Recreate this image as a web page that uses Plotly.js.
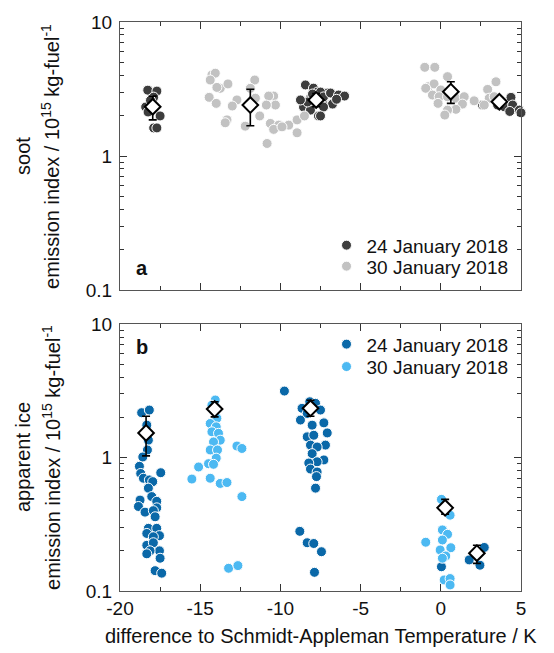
<!DOCTYPE html>
<html>
<head>
<meta charset="utf-8">
<script src="https://cdn.plot.ly/plotly-3.0.1.min.js"></script>
<style>html,body{margin:0;padding:0;background:#fff;}#chart{width:554px;height:653px;}</style>
</head>
<body>
<div id="chart"></div>
<script>
// ---- Panel a: soot ----
const sootJan24X = [-18.27,-17.7,-17.9,-18.3,-18.4,-18.25,-17.5,-17.9,-17.7,-18.1,
  -8.44,-7.94,-7.69,-8.1,-7.69,-7.375,-8.56,-8.125,-7.625,-8.31,-7.06,-7.5,-7.31,-6.875,-6.375,-6.75,-7.31,-7.5,-8.75,-8.0,-6.0,-6.5,
  2.6,3.54,3.96,4.375,4.48,4.9,5.1,5.0,4.3,3.8];
const sootJan24Y = [3.1,3.05,2.75,2.32,2.32,2.13,1.99,1.62,1.62,2.6,
  3.39,3.21,3.0,2.76,2.62,2.48,2.32,2.2,1.99,2.53,2.95,3.0,2.76,2.95,2.85,2.44,2.32,1.99,2.62,2.9,2.8,2.65,
  2.40,2.40,2.33,2.74,2.40,2.20,2.85,2.10,2.15,2.55];
const sootJan30X = [-14.27,-14.06,-14.375,-13.75,-13.27,-13.96,-14.44,-14.0,-12.71,-13.0,-13.33,-13.44,-12.19,-11.6,-11.875,-11.56,-11.29,-10.83,-10.42,-10.73,-10.31,-10.875,-10.625,-10.1,-10.42,-9.48,-8.96,-8.96,-8.5,-9.9,
  -1.0,-0.375,0.42,-0.77,-0.42,-0.94,0.0,-0.52,-0.1,0.42,0.94,1.46,-0.17,1.35,0.94,0.42,0.25,2.08,2.92,3.44,3.02,3.33,2.71];
const sootJan30Y = [4.02,4.15,3.69,3.2,3.45,3.25,2.74,2.47,2.62,2.36,1.86,1.77,1.67,3.69,3.2,2.7,1.99,1.24,2.8,2.8,2.4,2.4,1.75,1.7,1.58,1.7,1.86,1.49,1.99,1.65,
  4.59,4.59,3.91,3.29,3.45,3.2,3.11,2.85,2.77,2.77,2.7,2.77,2.47,2.44,2.23,2.2,2.02,2.58,3.14,3.58,2.7,2.77,2.4];
const sootMeanX = [-17.96,-11.875,-7.77,0.625,3.65];
const sootMeanY = [2.33,2.40,2.62,3.02,2.54];
const sootErrPlus = [0.47,0.75,0.31,0.56,0.0];
const sootErrMinus = [0.47,0.72,0.29,0.55,0.0];

// ---- Panel b: apparent ice ----
const iceJan24X = [-18.65,-18.17,-18.33,-18.23,-18.29,-18.58,-18.79,-18.71,-18.54,-18.17,-17.96,-17.46,-18.23,-18.02,-18.75,-18.85,-18.44,-17.71,-17.71,-17.92,-17.81,-18.23,-17.71,-18.33,-17.54,-17.92,-18.33,-17.92,-17.54,-18.125,-18.33,-17.5,-17.81,-17.4,
  -9.75,-8.17,-7.81,-8.65,-7.5,-8.33,-7.29,-8.75,-8.02,-7.08,-8.33,-7.92,-7.19,-8.125,-7.71,-8.02,-7.29,-7.71,-8.23,-8.125,-7.71,-7.75,-7.81,-8.79,-8.33,-7.92,-7.44,-7.875,
  0.04,1.77,2.44,2.71,2.75];
const iceJan24Y = [2.17,2.27,1.75,1.35,1.14,1.01,0.86,0.76,0.70,0.68,0.66,0.77,0.59,0.51,0.48,0.43,0.39,0.47,0.42,0.40,0.36,0.295,0.295,0.27,0.26,0.255,0.22,0.23,0.20,0.20,0.19,0.176,0.142,0.136,
  3.15,2.62,2.55,2.34,2.27,2.14,1.82,1.91,1.75,1.53,1.43,1.47,1.24,1.24,1.20,1.07,0.96,0.93,0.91,0.82,0.78,0.72,0.59,0.28,0.23,0.227,0.197,0.138,
  0.152,0.171,0.156,0.212,0.095];
const iceJan30X = [-14.06,-14.27,-14.17,-13.96,-14.375,-14.0,-14.27,-13.86,-13.75,-14.17,-14.375,-13.92,-14.0,-14.48,-14.17,-15.1,-15.52,-14.375,-13.75,-13.33,-12.71,-12.4,-12.4,-13.23,-12.65,
  0.04,0.58,0.1,0.42,-0.94,0.1,-0.04,0.625,0.31,0.1,0.21,0.58,0.58,0.58];
const iceJan30Y = [2.70,2.47,2.27,1.97,1.80,1.70,1.56,1.52,1.35,1.31,1.14,1.14,0.99,0.90,0.89,0.85,0.69,0.70,0.64,0.65,1.22,1.17,0.51,0.148,0.155,
  0.486,0.37,0.287,0.266,0.232,0.241,0.203,0.211,0.183,0.176,0.121,0.124,0.111,0.099];
const iceMeanX = [-18.375,-14.1,-8.125,0.27,2.25];
const iceMeanY = [1.53,2.31,2.34,0.42,0.192];
const iceErrPlus = [0.51,0.31,0.35,0.066,0.028];
const iceErrMinus = [0.50,0.29,0.30,0.043,0.031];

const seriesNames = ["24 January 2018", "30 January 2018"];
const xTickVals = [-20,-15,-10,-5,0,5];
const xTickText = ["-20","-15","-10","-5","0","5"];
const yTickVals = [0.1,1,10];
const yTickText = ["0.1","1","10"];

const FONT = "Liberation Sans, Arial, sans-serif";
const C = {dg:"#3d3d3d", lg:"#c2c2c2", db:"#0a68a8", lb:"#4cb9f2"};

function pts(x, y, color, name, xa, ya, leg) {
  return {x:x, y:y, type:"scatter", mode:"markers", name:name, xaxis:xa, yaxis:ya, legend:leg,
    cliponaxis:false,
    marker:{size:10, color:color, line:{color:"#ffffff", width:1}}};
}
function means(x, y, ep, em, xa, ya) {
  return {x:x, y:y, type:"scatter", mode:"markers", xaxis:xa, yaxis:ya, showlegend:false, cliponaxis:false,
    marker:{symbol:"diamond", size:12, color:"#ffffff", line:{color:"#000000", width:2}},
    error_y:{type:"data", symmetric:false, array:ep, arrayminus:em, color:"#000000", thickness:1.6, width:4}};
}

const data = [
  pts(sootJan24X, sootJan24Y, C.dg, seriesNames[0], "x", "y", "legend"),
  pts(sootJan30X, sootJan30Y, C.lg, seriesNames[1], "x", "y", "legend2"),
  pts(iceJan24X, iceJan24Y, C.db, seriesNames[0], "x2", "y2", "legend3"),
  pts(iceJan30X, iceJan30Y, C.lb, seriesNames[1], "x2", "y2", "legend4"),
  means(sootMeanX, sootMeanY, sootErrPlus, sootErrMinus, "x", "y"),
  means(iceMeanX, iceMeanY, iceErrPlus, iceErrMinus, "x2", "y2")
];

const yCommon = {type:"log", range:[-1,1], tickmode:"array", tickvals:yTickVals, ticktext:yTickText,
  ticks:"inside", ticklen:7, tickwidth:1, tickcolor:"#333",
  showline:true, linecolor:"#555", linewidth:1, mirror:"allticks", showgrid:false, zeroline:false,
  ticklabelstandoff:3,
  tickfont:{family:FONT, size:19, color:"#111"},
  minor:{dtick:"D1", ticks:"inside", ticklen:4, tickcolor:"#333", showgrid:false}};
const xCommon = {range:[-20,5], tickmode:"array", tickvals:xTickVals, ticktext:xTickText,
  ticks:"inside", ticklen:7, tickwidth:1, tickcolor:"#333",
  showline:true, linecolor:"#555", linewidth:1, mirror:"allticks", showgrid:false, zeroline:false,
  tickfont:{family:FONT, size:19, color:"#111"},
  minor:{tick0:0, dtick:2.5, ticks:"inside", ticklen:4, tickcolor:"#333", showgrid:false}};

function leg(y) {
  return {x:0.515, xanchor:"left", y:y, yanchor:"middle", bgcolor:"rgba(0,0,0,0)", borderwidth:0,
    font:{family:FONT, size:19, color:"#111"}, itemclick:false};
}
function ann(text, x, y, opts) {
  return Object.assign({text:text, xref:"paper", yref:"paper", x:x, y:y, showarrow:false,
    font:{family:FONT, size:20, color:"#111"}, xanchor:"center", yanchor:"middle"}, opts||{});
}

const layout = {
  width:554, height:653, margin:{l:120, r:33, t:22, b:62},
  paper_bgcolor:"#ffffff", plot_bgcolor:"#ffffff",
  font:{family:FONT, color:"#111"},
  xaxis:Object.assign({}, xCommon, {anchor:"y", showticklabels:false}),
  yaxis:Object.assign({}, yCommon, {domain:[0.529,1], anchor:"x"}),
  xaxis2:Object.assign({}, xCommon, {anchor:"y2"}),
  yaxis2:Object.assign({}, yCommon, {domain:[0,0.469], anchor:"x2"}),
  legend:leg(0.6075), legend2:leg(0.5706), legend3:leg(0.4336), legend4:leg(0.3942),
  annotations:[
    ann("soot", -0.2419, 0.7645, {textangle:-90}),
    ann("emission index / 10<sup>15</sup> kg-fuel<sup>-1</sup>", -0.1721, 0.7645, {textangle:-90}),
    ann("apparent ice", -0.2419, 0.2355, {textangle:-90}),
    ann("emission index / 10<sup>15</sup> kg-fuel<sup>-1</sup>", -0.1721, 0.2355, {textangle:-90}),
    ann("difference to Schmidt-Appleman Temperature / K", 0.501, -0.079, {}),
    ann("<b>a</b>", 0.055, 0.5677, {font:{family:FONT, size:20, color:"#111"}}),
    ann("<b>b</b>", 0.055, 0.4288, {font:{family:FONT, size:20, color:"#111"}})
  ],
  showlegend:true
};

Plotly.newPlot("chart", data, layout, {staticPlot:true, displayModeBar:false});
</script>
</body>
</html>
